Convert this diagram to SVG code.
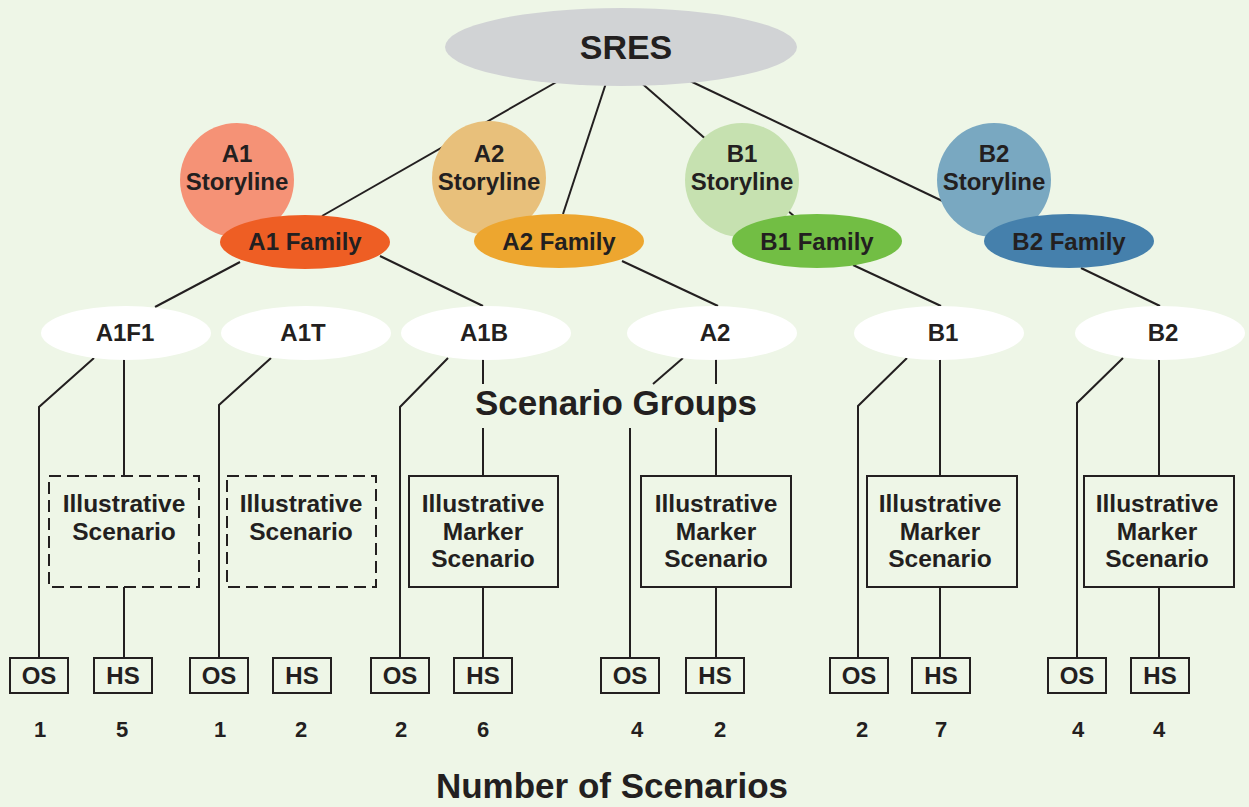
<svg xmlns="http://www.w3.org/2000/svg" width="1249" height="807" viewBox="0 0 1249 807">
<style>
text{font-family:"Liberation Sans",Arial,sans-serif;font-weight:bold;fill:#231F20;text-anchor:middle}
.t24{font-size:24px}
.t25{font-size:24.5px}
.num{font-size:22px}
.ln{stroke:#231F20;stroke-width:2;fill:none}
.grp{fill:#FFFFFF}
.box{fill:none;stroke:#231F20;stroke-width:2}
.dash{fill:none;stroke:#231F20;stroke-width:2;stroke-dasharray:12 6}
</style>
<rect width="1249" height="807" fill="#EEF6E7"/>
<g id="connectors" class="ln">
<line x1="560" y1="80" x2="322" y2="216"/>
<line x1="607" y1="80" x2="563" y2="214"/>
<line x1="638" y1="80" x2="795" y2="217"/>
<line x1="688" y1="80" x2="997" y2="227"/>
<line x1="240" y1="262" x2="155" y2="307"/>
<line x1="380" y1="256" x2="483" y2="306"/>
<line x1="622" y1="261" x2="718" y2="306"/>
<line x1="853" y1="265" x2="941" y2="306"/>
<line x1="1081" y1="268" x2="1160" y2="306"/>
<polyline points="94,358 39,407 39,658"/>
<line x1="124" y1="358" x2="124" y2="476"/>
<line x1="124" y1="587" x2="124" y2="658"/>
<polyline points="271,358 219,405 219,658"/>
<polyline points="448,358 400,407 400,658"/>
<line x1="483" y1="358" x2="483" y2="384"/>
<line x1="483" y1="428" x2="483" y2="476"/>
<line x1="483" y1="587" x2="483" y2="658"/>
<line x1="683" y1="358" x2="653" y2="384"/>
<line x1="630" y1="428" x2="630" y2="658"/>
<line x1="716" y1="358" x2="716" y2="384"/>
<line x1="716" y1="428" x2="716" y2="476"/>
<line x1="716" y1="587" x2="716" y2="658"/>
<polyline points="907,358 858,406 858,658"/>
<line x1="940" y1="358" x2="940" y2="476"/>
<line x1="940" y1="587" x2="940" y2="658"/>
<polyline points="1123,358 1077,403 1077,658"/>
<line x1="1159" y1="358" x2="1159" y2="476"/>
<line x1="1159" y1="587" x2="1159" y2="658"/>
</g>
<g id="sres">
<ellipse cx="621" cy="47" rx="176" ry="39" fill="#D1D3D5"/>
<text x="626" y="59" style="font-size:34px">SRES</text>
</g>
<g id="a1-storyline">
<circle cx="237" cy="180" r="57" fill="#F59276"/>
<text class="t24" x="237" y="162">A1</text>
<text class="t24" x="237" y="190">Storyline</text>
</g>
<g id="a2-storyline">
<circle cx="489" cy="178" r="57" fill="#E8C07B"/>
<text class="t24" x="489" y="162">A2</text>
<text class="t24" x="489" y="190">Storyline</text>
</g>
<g id="b1-storyline">
<circle cx="742" cy="180" r="57" fill="#C6E1B0"/>
<text class="t24" x="742" y="162">B1</text>
<text class="t24" x="742" y="190">Storyline</text>
</g>
<g id="b2-storyline">
<circle cx="994" cy="180" r="57" fill="#79A8C1"/>
<text class="t24" x="994" y="162">B2</text>
<text class="t24" x="994" y="190">Storyline</text>
</g>
<g id="a1-family">
<ellipse cx="305" cy="242" rx="85" ry="27" fill="#EE5E24"/>
<text class="t24" x="305" y="250">A1 Family</text>
</g>
<g id="a2-family">
<ellipse cx="559" cy="241" rx="85" ry="27" fill="#EDA62F"/>
<text class="t24" x="559" y="250">A2 Family</text>
</g>
<g id="b1-family">
<ellipse cx="817" cy="241" rx="85" ry="27" fill="#72BE44"/>
<text class="t24" x="817" y="250">B1 Family</text>
</g>
<g id="b2-family">
<ellipse cx="1069" cy="241" rx="85" ry="27" fill="#4580AC"/>
<text class="t24" x="1069" y="250">B2 Family</text>
</g>
<g id="g-a1f1"><ellipse class="grp" cx="126" cy="333" rx="85" ry="27"/><text class="t24" x="125" y="341">A1F1</text></g>
<g id="g-a1t"><ellipse class="grp" cx="306" cy="333" rx="85" ry="27"/><text class="t24" x="303" y="341">A1T</text></g>
<g id="g-a1b"><ellipse class="grp" cx="486" cy="333" rx="85" ry="27"/><text class="t24" x="484" y="341">A1B</text></g>
<g id="g-a2"><ellipse class="grp" cx="712" cy="333" rx="85" ry="27"/><text class="t24" x="715" y="341">A2</text></g>
<g id="g-b1"><ellipse class="grp" cx="939" cy="333" rx="85" ry="27"/><text class="t24" x="943" y="341">B1</text></g>
<g id="g-b2"><ellipse class="grp" cx="1160" cy="333" rx="85" ry="27"/><text class="t24" x="1163" y="341">B2</text></g>
<text id="scenario-groups" x="616" y="415" style="font-size:35px">Scenario Groups</text>
<g id="is-a1f1"><rect class="dash" x="49" y="476" width="150" height="111"/><text class="t25" x="124" y="512">Illustrative</text><text class="t25" x="124" y="540">Scenario</text></g>
<g id="is-a1t"><rect class="dash" x="227" y="476" width="149" height="111"/><text class="t25" x="301" y="512">Illustrative</text><text class="t25" x="301" y="540">Scenario</text></g>
<g id="ims-a1b"><rect class="box" x="409" y="476" width="149" height="111"/><text class="t25" x="483" y="512">Illustrative</text><text class="t25" x="483" y="540">Marker</text><text class="t25" x="483" y="567">Scenario</text></g>
<g id="ims-a2"><rect class="box" x="641" y="476" width="150" height="111"/><text class="t25" x="716" y="512">Illustrative</text><text class="t25" x="716" y="540">Marker</text><text class="t25" x="716" y="567">Scenario</text></g>
<g id="ims-b1"><rect class="box" x="867" y="476" width="150" height="111"/><text class="t25" x="940" y="512">Illustrative</text><text class="t25" x="940" y="540">Marker</text><text class="t25" x="940" y="567">Scenario</text></g>
<g id="ims-b2"><rect class="box" x="1084" y="476" width="150" height="111"/><text class="t25" x="1157" y="512">Illustrative</text><text class="t25" x="1157" y="540">Marker</text><text class="t25" x="1157" y="567">Scenario</text></g>
<g id="os-a1f1"><rect class="box" x="10" y="658" width="58" height="35"/><text class="t24" x="39" y="684">OS</text></g>
<g id="hs-a1f1"><rect class="box" x="94" y="658" width="58" height="35"/><text class="t24" x="123" y="684">HS</text></g>
<g id="os-a1t"><rect class="box" x="190" y="658" width="58" height="35"/><text class="t24" x="219" y="684">OS</text></g>
<g id="hs-a1t"><rect class="box" x="273" y="658" width="58" height="35"/><text class="t24" x="302" y="684">HS</text></g>
<g id="os-a1b"><rect class="box" x="371" y="658" width="58" height="35"/><text class="t24" x="400" y="684">OS</text></g>
<g id="hs-a1b"><rect class="box" x="454" y="658" width="58" height="35"/><text class="t24" x="483" y="684">HS</text></g>
<g id="os-a2"><rect class="box" x="601" y="658" width="58" height="35"/><text class="t24" x="630" y="684">OS</text></g>
<g id="hs-a2"><rect class="box" x="686" y="658" width="58" height="35"/><text class="t24" x="715" y="684">HS</text></g>
<g id="os-b1"><rect class="box" x="830" y="658" width="58" height="35"/><text class="t24" x="859" y="684">OS</text></g>
<g id="hs-b1"><rect class="box" x="912" y="658" width="58" height="35"/><text class="t24" x="941" y="684">HS</text></g>
<g id="os-b2"><rect class="box" x="1048" y="658" width="58" height="35"/><text class="t24" x="1077" y="684">OS</text></g>
<g id="hs-b2"><rect class="box" x="1131" y="658" width="58" height="35"/><text class="t24" x="1160" y="684">HS</text></g>
<g id="counts">
<text class="num" x="40" y="737">1</text>
<text class="num" x="122" y="737">5</text>
<text class="num" x="220" y="737">1</text>
<text class="num" x="301" y="737">2</text>
<text class="num" x="401" y="737">2</text>
<text class="num" x="483" y="737">6</text>
<text class="num" x="637" y="737">4</text>
<text class="num" x="720" y="737">2</text>
<text class="num" x="862" y="737">2</text>
<text class="num" x="941" y="737">7</text>
<text class="num" x="1078" y="737">4</text>
<text class="num" x="1159" y="737">4</text>
</g>
<text id="number-of-scenarios" x="612" y="798" style="font-size:35px">Number of Scenarios</text>
</svg>
